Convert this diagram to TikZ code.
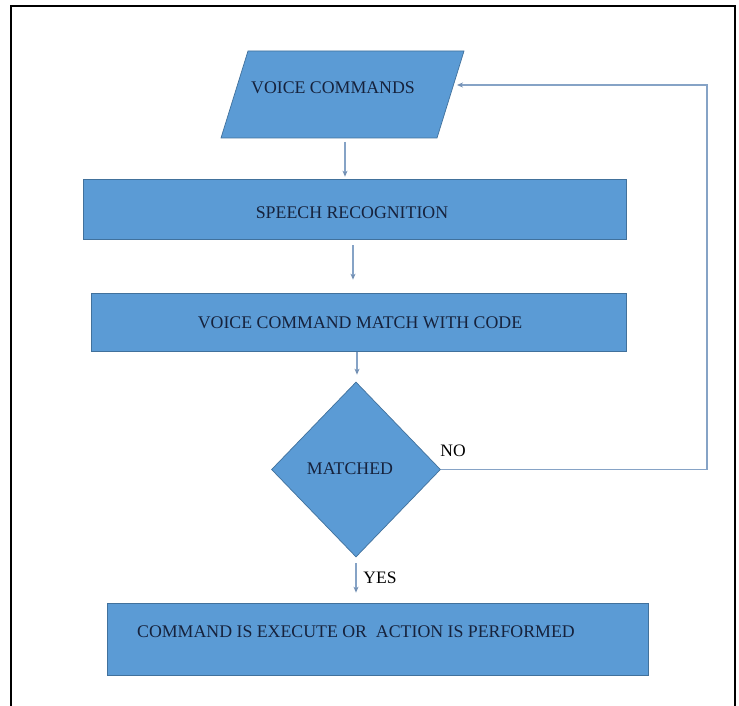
\documentclass[tikz,border=0pt]{standalone}
\usepackage{fontspec}
\setmainfont{Liberation Serif}
\usetikzlibrary{shapes.geometric,arrows.meta,calc}
\definecolor{boxfill}{HTML}{5B9BD5}
\definecolor{boxedge}{HTML}{41719C}
\definecolor{conn}{HTML}{86A3C6}
\definecolor{tipc}{HTML}{7390B4}
\definecolor{txt}{HTML}{16223C}
\tikzset{
  shapebox/.style={draw=boxedge, fill=boxfill, line width=0.7pt, inner sep=0pt},
  boxtext/.style={text=txt, font=\fontsize{17.8}{19}\selectfont, inner sep=0pt},
  plaintext/.style={text=black, font=\fontsize{17.5}{19}\selectfont, inner sep=0pt},
  flow/.style={draw=conn, line width=1.1pt, -{Stealth[length=6pt,width=5pt,color=tipc]}},
  frameline/.style={draw=black, line width=1.5pt}
}
\begin{document}
\begin{tikzpicture}[x=1pt,y=-1pt]
\useasboundingbox (0,0) rectangle (739,706);
\fill[white] (0,0) rectangle (739,706);
% frame
\draw[frameline] (11,706) -- (11,6) -- (735,6) -- (735,706);

% parallelogram input
\coordinate (vctl) at (248,51);
\coordinate (vctr) at (464,51);
\coordinate (vcbr) at (437,138);
\coordinate (vcbl) at (221,138);
\draw[shapebox] (vctl) -- (vctr) -- (vcbr) -- (vcbl) -- cycle;
\node[boxtext] (vct) at (333,88) {VOICE COMMANDS};

% process boxes
\node[shapebox, rectangle, minimum width=543pt, minimum height=60pt] (sr) at (354.5,209) {};
\node[boxtext] (srt) at (352,213) {SPEECH RECOGNITION};

\node[shapebox, rectangle, minimum width=535pt, minimum height=58pt] (vm) at (358.5,322) {};
\node[boxtext] (vmt) at (360,323) {VOICE COMMAND MATCH WITH CODE};

% decision
\node[shapebox, diamond, minimum width=169pt, minimum height=175pt] (dm) at (356,469.5) {};
\node[boxtext] (dmt) at (350,469) {MATCHED};

\node[shapebox, rectangle, minimum width=541pt, minimum height=72pt] (ex) at (377.5,639) {};
\node[boxtext] (ext) at (356,632) {COMMAND IS EXECUTE OR\ \ ACTION IS PERFORMED};

% labels
\node[plaintext] (no) at (453,451) {NO};
\node[plaintext] (yes) at (380,578) {YES};

% connector coordinates
\coordinate (a1s) at (345,142);
\coordinate (a1e) at (a1s |- sr.north);
\coordinate (a2s) at ($(sr.south)+(-1.5,6)$);
\coordinate (a2e) at (a2s |- vm.north);
\coordinate (a3s) at ($(vm.south)+(-1.5,1)$);
\coordinate (a3e) at (a3s |- dm.north);
\coordinate (a4s) at ($(dm.south)+(0,6)$);
\coordinate (a4e) at (a4s |- ex.north);
\coordinate (fb) at (707,470);
\coordinate (vcin) at (457,85);

\draw[flow, shorten >=2pt] (a1s) -- (a1e);
\draw[flow, shorten >=13pt] (a2s) -- (a2e);
\draw[flow, shorten >=7pt] (a3s) -- (a3e);
\draw[flow, shorten >=10pt] (a4s) -- (a4e);
\draw[flow] (dm.east) -- (dm.east -| fb) -- (fb |- vcin) -- (vcin);
\end{tikzpicture}
\end{document}
